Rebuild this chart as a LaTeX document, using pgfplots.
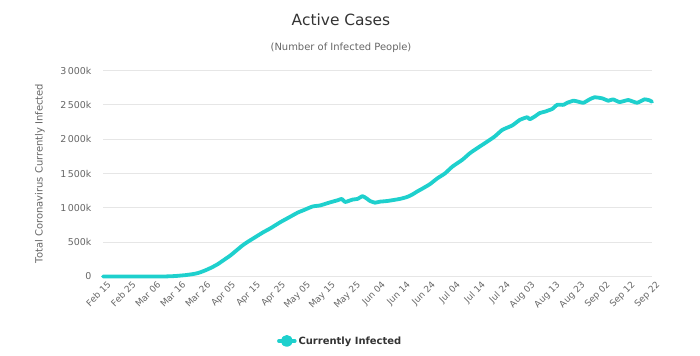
\documentclass[border=0pt]{standalone}
\usepackage{pgfplots}
\pgfplotsset{compat=1.18}
\usepackage{pgfplotstable}
\usepackage{fontspec}
\setmainfont{DejaVu Sans}
\definecolor{cyanline}{RGB}{30,208,205}
\definecolor{gridc}{RGB}{230,230,230}
\definecolor{lbl}{RGB}{102,102,102}
\definecolor{ttl}{RGB}{51,51,51}
\pgfplotstableread{
day val
0 0
10 0
20 0
25 1
28 5
30 10
33 20
36 35
38 50
40 75
42 105
44 140
46 180
48 230
51 305
54 395
56 455
58 505
60 550
64 640
67 700
71 790
74 850
78 930
80 960
84 1020
87 1035
91 1080
94 1110
95.7 1130
97 1085
100 1120
102 1130
104 1170
105.7 1135
107 1100
109 1075
111 1090
114 1100
119 1130
122 1160
124 1195
126 1240
128 1280
131 1345
134 1430
137 1500
140 1600
144 1700
147 1795
150 1870
154 1965
157 2040
160 2135
164 2200
167 2280
170 2320
171 2290
173 2330
175 2380
177 2400
180 2440
182 2500
184.5 2500
186 2530
188.5 2560
190 2550
192.5 2530
195 2580
197 2610
200 2595
202.5 2560
204.4 2580
207 2540
210.5 2570
214 2530
217 2580
219 2565
220 2545
}\activedata
\begin{document}
\begin{tikzpicture}[x=1bp,y=1bp]
\path[use as bounding box] (-103,-78.5) rectangle (597,276.5);
\begin{axis}[
  at={(0,0)}, anchor=south west,
  scale only axis, width=549bp, height=206bp,
  xmin=0, xmax=220, ymin=0, ymax=3000,
  axis line style={draw=none},
  tick style={draw=none},
  major tick length=0pt,
  xtick={0,10,...,220},
  xticklabels={Feb 15,Feb 25,Mar 06,Mar 16,Mar 26,Apr 05,Apr 15,Apr 25,May 05,May 15,May 25,Jun 04,Jun 14,Jun 24,Jul 04,Jul 14,Jul 24,Aug 03,Aug 13,Aug 23,Sep 02,Sep 12,Sep 22},
  xticklabel style={rotate=45, anchor=north east, font=\fontsize{9}{9}\selectfont, text=lbl, inner sep=0.5bp, yshift=-5bp},
  ytick={0,500,...,3000},
  yticklabels={0,500k,1\,000k,1\,500k,2\,000k,2\,500k,3\,000k},
  yticklabel style={font=\fontsize{9.5}{10}\selectfont, text=lbl, xshift=-8bp},
  ymajorgrids,
  grid style={gridc, line width=0.8bp},
  legend style={at={(0.432,-0.313)}, anchor=center, draw=none, fill=none, font=\bfseries\fontsize{10}{12}\selectfont, text=ttl, legend cell align=left},
  legend image code/.code={\draw[cyanline, line width=3.5bp] (0bp,0bp) -- (16bp,0bp); \fill[cyanline] (8bp,0bp) circle (4bp);},
  clip=false,
]
\addplot[cyanline, line width=3.8bp, line join=round, line cap=round, smooth, tension=0.3] table[x=day,y=val] {\activedata};
\addlegendentry{Currently Infected}
\end{axis}
\node[text=ttl, font=\fontsize{15.5}{18}\selectfont] at (238,256.5) {Active Cases};
\node[text=lbl, font=\fontsize{10}{12}\selectfont] at (238,228.5) {(Number of Infected People)};
\node[text=lbl, rotate=90, font=\fontsize{10}{12}\selectfont] at (-63,103) {Total Coronavirus Currently Infected};
\end{tikzpicture}
\end{document}
